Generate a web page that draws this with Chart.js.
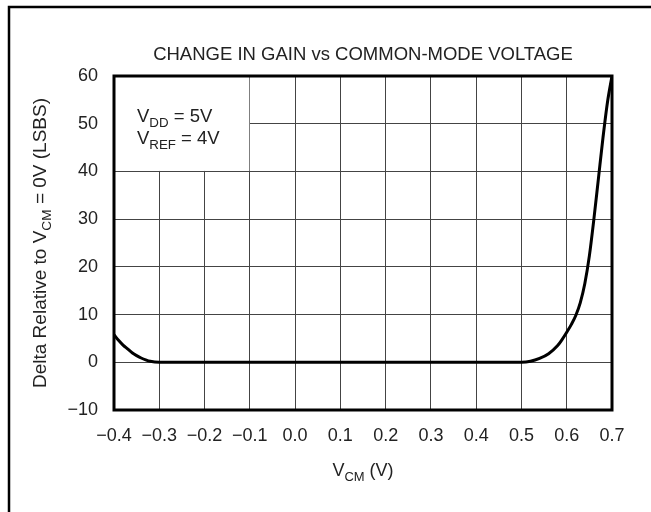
<!DOCTYPE html>
<html>
<head>
<meta charset="utf-8">
<script src="https://cdn.jsdelivr.net/npm/chart.js@4.4.1/dist/chart.umd.min.js"></script>
<style>
  html, body { margin: 0; padding: 0; background: #fff; }
  canvas { display: block; }
</style>
</head>
<body>
<canvas id="c" width="651" height="512"></canvas>
<script>
// ---- data ----
const vcm = [-0.40, -0.39, -0.38, -0.37, -0.36, -0.35, -0.34, -0.33, -0.32, -0.30,
             0.50, 0.52, 0.54, 0.56, 0.58, 0.59, 0.60, 0.61, 0.62, 0.63, 0.64, 0.65, 0.66, 0.67, 0.68, 0.69, 0.70];
const delta = [5.8, 4.6, 3.6, 2.8, 2.0, 1.4, 0.9, 0.5, 0.2, 0.0,
               0.0, 0.2, 0.8, 1.8, 3.5, 4.8, 6.3, 7.9, 9.8, 12.5, 16.5, 22.3, 30.0, 38.5, 47.0, 54.5, 60.0];
const xTicks = [-0.4, -0.3, -0.2, -0.1, 0.0, 0.1, 0.2, 0.3, 0.4, 0.5, 0.6, 0.7];
const yTicks = [-10, 0, 10, 20, 30, 40, 50, 60];
const titleText = "CHANGE IN GAIN vs COMMON-MODE VOLTAGE";
const legendLines = [[["V", false], ["DD", true], [" = 5V", false]],
                     [["V", false], ["REF", true], [" = 4V", false]]];
const yTitle = [["Delta Relative to V", false], ["CM", true], [" = 0V (LSBS)", false]];
const xTitle = [["V", false], ["CM", true], [" (V)", false]];

const FONT = "'Liberation Sans', Arial, Helvetica, sans-serif";
const TXT = "#222";
const minus = s => s.replace("-", "\u2212");

function richWidth(ctx, parts, size) {
  let w = 0;
  for (const [t, sub] of parts) {
    ctx.font = (sub ? size * 0.72 : size) + "px " + FONT;
    w += ctx.measureText(t).width;
  }
  return w;
}
function drawRich(ctx, parts, x, y, size, align) {
  const w = richWidth(ctx, parts, size);
  let cx = align === "center" ? x - w / 2 : x;
  ctx.textAlign = "left";
  ctx.textBaseline = "alphabetic";
  ctx.fillStyle = TXT;
  for (const [t, sub] of parts) {
    ctx.font = (sub ? size * 0.72 : size) + "px " + FONT;
    ctx.fillText(t, cx, sub ? y + size * 0.28 : y);
    cx += ctx.measureText(t).width;
  }
}

const decor = {
  id: "decor",
  beforeDatasetsDraw(chart) {
    const { ctx, scales: { x, y } } = chart;
    // white box behind the legend text (covers grid lines)
    const l = x.getPixelForValue(-0.4), r = x.getPixelForValue(-0.1);
    const t = y.getPixelForValue(60), b = y.getPixelForValue(40);
    ctx.save();
    ctx.fillStyle = "#fff";
    ctx.fillRect(l, t, r - l - 0.5, b - t - 0.5);
    ctx.restore();
  },
  afterDraw(chart) {
    const { ctx, chartArea: a } = chart;
    ctx.save();
    // outer frame (top and left edges visible)
    ctx.strokeStyle = "#000";
    ctx.lineWidth = 2.5;
    ctx.beginPath();
    ctx.moveTo(9, 512); ctx.lineTo(9, 7); ctx.lineTo(651, 7);
    ctx.stroke();
    // plot border
    ctx.lineWidth = 3;
    ctx.strokeRect(a.left, a.top, a.right - a.left, a.bottom - a.top);
    // title
    ctx.fillStyle = TXT;
    ctx.font = "18.5px " + FONT;
    ctx.textAlign = "center";
    ctx.textBaseline = "alphabetic";
    ctx.fillText(titleText, (a.left + a.right) / 2, 60);
    // legend text
    drawRich(ctx, legendLines[0], a.left + 23, 122, 18.5, "left");
    drawRich(ctx, legendLines[1], a.left + 23, 144, 18.5, "left");
    // x title
    drawRich(ctx, xTitle, (a.left + a.right) / 2, 476, 18, "center");
    // y title
    ctx.translate(46, (a.top + a.bottom) / 2);
    ctx.rotate(-Math.PI / 2);
    drawRich(ctx, yTitle, 0, 0, 19, "center");
    ctx.restore();
  }
};

new Chart(document.getElementById("c"), {
  type: "scatter",
  data: {
    datasets: [{
      data: vcm.map((v, i) => ({ x: v, y: delta[i] })),
      showLine: true,
      borderColor: "#000",
      borderWidth: 3,
      pointRadius: 0,
      cubicInterpolationMode: "monotone",
      fill: false
    }]
  },
  options: {
    responsive: false,
    animation: false,
    devicePixelRatio: 1,
    layout: { padding: { top: 76, right: 39, left: 10, bottom: 0 } },
    plugins: { legend: { display: false }, tooltip: { enabled: false }, title: { display: false } },
    scales: {
      x: {
        type: "linear",
        min: -0.4, max: 0.7,
        afterBuildTicks: s => { s.ticks = xTicks.map(v => ({ value: v })); },
        afterFit: s => { s.height = 102; },
        grid: { color: "#444", lineWidth: 1, drawTicks: false },
        border: { display: false },
        ticks: {
          padding: 15,
          color: TXT,
          font: { family: FONT, size: 18 },
          maxRotation: 0,
          callback: v => minus(Number(v).toFixed(1))
        }
      },
      y: {
        type: "linear",
        min: -10, max: 60,
        afterBuildTicks: s => { s.ticks = yTicks.map(v => ({ value: v })); },
        afterFit: s => { s.width = 104; },
        grid: { color: "#444", lineWidth: 1, drawTicks: false },
        border: { display: false },
        ticks: {
          padding: 16,
          color: TXT,
          font: { family: FONT, size: 18 },
          callback: v => minus(String(v))
        }
      }
    }
  },
  plugins: [decor]
});
</script>
</body>
</html>
